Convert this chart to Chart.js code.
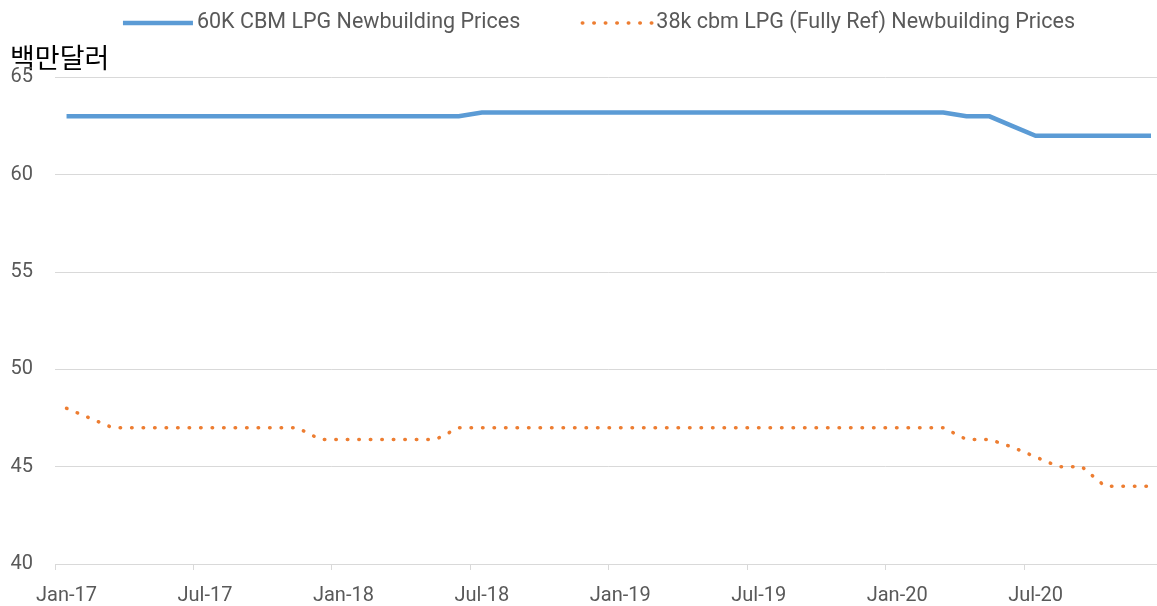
<!DOCTYPE html>
<html>
<head>
<meta charset="utf-8">
<script src="https://cdn.jsdelivr.net/npm/chart.js@4.4.1/dist/chart.umd.min.js"></script>
<style>
  html, body { margin: 0; padding: 0; background: #fff; overflow: hidden; }
  #wrap { position: relative; width: 1165px; height: 606px; }
</style>
</head>
<body>
<div id="wrap"><canvas id="lpg-price-chart"></canvas></div>
<script>
/* LPG carrier newbuilding prices, monthly, USD million */
const months = [
  'Jan-17', 'Feb-17', 'Mar-17', 'Apr-17', 'May-17', 'Jun-17', 'Jul-17', 'Aug-17', 'Sep-17', 'Oct-17', 'Nov-17', 'Dec-17',
  'Jan-18', 'Feb-18', 'Mar-18', 'Apr-18', 'May-18', 'Jun-18', 'Jul-18', 'Aug-18', 'Sep-18', 'Oct-18', 'Nov-18', 'Dec-18',
  'Jan-19', 'Feb-19', 'Mar-19', 'Apr-19', 'May-19', 'Jun-19', 'Jul-19', 'Aug-19', 'Sep-19', 'Oct-19', 'Nov-19', 'Dec-19',
  'Jan-20', 'Feb-20', 'Mar-20', 'Apr-20', 'May-20', 'Jun-20', 'Jul-20', 'Aug-20', 'Sep-20', 'Oct-20', 'Nov-20', 'Dec-20'
];

const vlgc60k = [
  63, 63, 63, 63, 63, 63, 63, 63, 63, 63, 63, 63,
  63, 63, 63, 63, 63, 63, 63.2, 63.2, 63.2, 63.2, 63.2, 63.2,
  63.2, 63.2, 63.2, 63.2, 63.2, 63.2, 63.2, 63.2, 63.2, 63.2, 63.2, 63.2,
  63.2, 63.2, 63.2, 63, 63, 62.5, 62, 62, 62, 62, 62, 62
];

const fullyRef38k = [
  48, 47.5, 47, 47, 47, 47, 47, 47, 47, 47, 47, 46.4,
  46.4, 46.4, 46.4, 46.4, 46.4, 47, 47, 47, 47, 47, 47, 47,
  47, 47, 47, 47, 47, 47, 47, 47, 47, 47, 47, 47,
  47, 47, 47, 46.4, 46.4, 46, 45.5, 45, 45, 44, 44, 44
];

const seriesNames = ['60K CBM LPG Newbuilding Prices', '38k cbm LPG (Fully Ref) Newbuilding Prices'];
const yTicks = { min: 40, max: 65, step: 5 };
const unitLabel = '백만달러';

const blue = '#5b9bd5';
const orange = '#ed7d31';
const axisText = '#595959';
const gridColor = '#d9d9d9';

/* legend drawn as a single row: line sample + text, like the Excel original */
const legendRow = {
  id: 'legendRow',
  afterDraw(chart) {
    const ctx = chart.ctx;
    const sample = 70, gap = 4, between = 62, centerX = 599, y = 23;
    ctx.save();
    ctx.font = '21.5px Roboto';
    ctx.textBaseline = 'middle';
    const items = chart.data.datasets.map(ds => ({ ds, w: sample + gap + ctx.measureText(ds.label).width }));
    const total = items.reduce((s, it) => s + it.w, 0) + between * (items.length - 1);
    let x = centerX - total / 2;
    items.forEach(({ ds, w }) => {
      ctx.beginPath();
      ctx.strokeStyle = ds.borderColor;
      ctx.lineWidth = ds.borderWidth;
      ctx.lineCap = ds.borderCapStyle || 'butt';
      ctx.setLineDash(ds.borderDash || []);
      ctx.moveTo(x, y);
      ctx.lineTo(x + sample, y);
      ctx.stroke();
      ctx.setLineDash([]);
      ctx.fillStyle = axisText;
      ctx.fillText(ds.label, x + sample + gap, y);
      x += w + between;
    });
    ctx.restore();
  }
};

new Chart(document.getElementById('lpg-price-chart'), {
  type: 'line',
  data: {
    labels: months,
    datasets: [
      {
        label: seriesNames[0],
        data: vlgc60k,
        borderColor: blue,
        backgroundColor: blue,
        borderWidth: 4.5,
        pointRadius: 0,
        tension: 0
      },
      {
        label: seriesNames[1],
        data: fullyRef38k,
        borderColor: orange,
        backgroundColor: orange,
        borderWidth: 3.5,
        borderDash: [0.5, 11],
        borderCapStyle: 'round',
        pointRadius: 0,
        tension: 0
      }
    ]
  },
  options: {
    responsive: true,
    maintainAspectRatio: false,
    animation: false,
    layout: { padding: { left: 10, right: 0, top: 8, bottom: 0 } },
    plugins: {
      legend: { display: false },
      tooltip: { enabled: false },
      title: {
        display: true,
        text: unitLabel,
        align: 'start',
        color: '#000',
        font: { family: '"Noto Sans CJK KR", sans-serif', size: 27, weight: 'normal' },
        padding: { top: 34, bottom: 3 }
      }
    },
    scales: {
      x: {
        offset: true,
        afterFit: (scale) => { scale.height = 42; },
        grid: {
          offset: true,
          drawOnChartArea: false,
          tickLength: 6,
          color: (ctx) => (ctx.index % 6 === 0 ? gridColor : 'rgba(0,0,0,0)')
        },
        border: { display: true, color: gridColor, width: 1 },
        ticks: {
          autoSkip: false,
          maxRotation: 0,
          padding: 14,
          color: axisText,
          font: { family: 'Roboto', size: 20 },
          callback: (v, i) => (i % 6 === 0 ? months[i] : '')
        }
      },
      y: {
        min: yTicks.min,
        max: yTicks.max,
        afterFit: (scale) => { scale.width = 45; },
        border: { display: false },
        grid: { color: gridColor, drawTicks: false },
        ticks: {
          stepSize: yTicks.step,
          padding: 22,
          color: axisText,
          font: { family: 'Roboto', size: 20 }
        }
      }
    }
  },
  plugins: [legendRow]
});
</script>
</body>
</html>
